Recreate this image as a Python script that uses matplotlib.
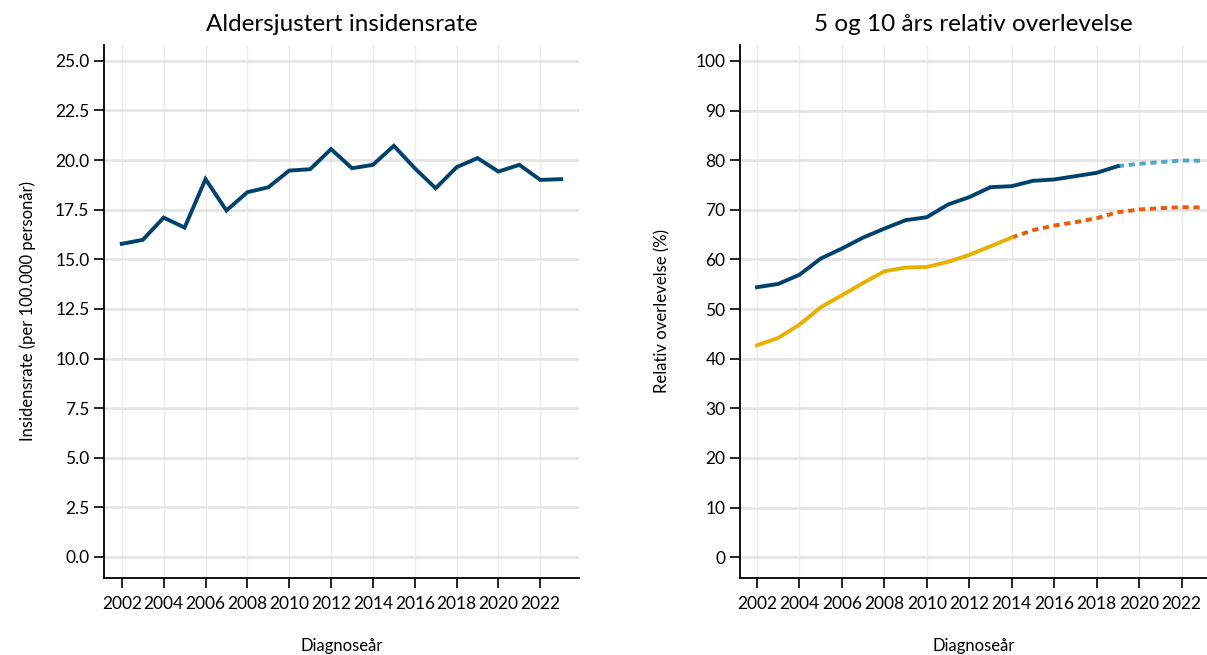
import matplotlib
matplotlib.use("Agg")
import matplotlib.pyplot as plt
import numpy as np

years = list(range(2002, 2024))
incidence = [15.78, 15.98, 17.1, 16.6, 19.04, 17.46, 18.38, 18.63, 19.47, 19.54,
             20.55, 19.59, 19.76, 20.72, 19.59, 18.58, 19.64, 20.1, 19.42, 19.76,
             19.0, 19.04]

surv5_years = list(range(2002, 2020))
surv5 = [54.4, 55.05, 56.9, 60.16, 62.18, 64.4, 66.2, 67.9, 68.5, 71.06,
         72.54, 74.55, 74.75, 75.83, 76.1, 76.77, 77.44, 78.79]
surv5_pred_years = list(range(2019, 2024))
surv5_pred = [78.79, 79.26, 79.6, 79.93, 79.87]

surv10_years = list(range(2002, 2015))
surv10 = [42.7, 44.16, 46.85, 50.34, 52.76, 55.25, 57.6, 58.35, 58.48, 59.5,
          60.9, 62.65, 64.4]
surv10_pred_years = list(range(2014, 2024))
surv10_pred = [64.4, 65.88, 66.82, 67.49, 68.3, 69.5, 70.05, 70.32, 70.52, 70.45]

xticks = list(range(2002, 2024, 2))

plt.rcParams['font.family'] = ['Lato', 'DejaVu Sans']

DARK = '#00426b'
YELLOW = '#e8b000'
LIGHTBLUE = '#4aa8c4'
ORANGE = '#ea5b0c'

fig = plt.figure(figsize=(12.07, 6.55), dpi=100)
ax1 = fig.add_axes([0.0862, 0.1176, 0.3935, 0.8137])
ax2 = fig.add_axes([0.6131, 0.1176, 0.3869, 0.8137])

def style(ax):
    for s in ['top', 'right']:
        ax.spines[s].set_visible(False)
    for s in ['left', 'bottom']:
        ax.spines[s].set_linewidth(1.3)
        ax.spines[s].set_color('black')
    ax.set_xticks(xticks)
    ax.tick_params(axis='both', length=7, width=1.2, labelsize=12.5, colors='black')
    ax.tick_params(axis='x', pad=6)
    ax.grid(axis='y', color='#e3e3e3', linewidth=1.8, zorder=0)
    ax.grid(axis='x', color='#ededed', linewidth=1.0, zorder=0)
    ax.set_axisbelow(True)
    ax.set_xlabel('Diagnoseår', fontsize=12, labelpad=19)

style(ax1)
ax1.plot(years, incidence, color=DARK, linewidth=2.8, solid_joinstyle='miter')
ax1.set_xlim(2001.15, 2023.85)
ax1.set_ylim(-1.06, 25.8)
ax1.set_yticks(np.arange(0, 25.01, 2.5))
ax1.set_yticklabels([f'{v:.1f}' for v in np.arange(0, 25.01, 2.5)])
ax1.set_ylabel('Insidensrate (per 100.000 personår)', fontsize=12, labelpad=14)
ax1.set_title('Aldersjustert insidensrate', fontsize=17.5, pad=10)

style(ax2)
dash = (1.6, 1.2)
ax2.plot(surv5_pred_years, surv5_pred, color=LIGHTBLUE, linewidth=2.8, dashes=dash)
ax2.plot(surv10_pred_years, surv10_pred, color=ORANGE, linewidth=2.8, dashes=dash)
ax2.plot(surv5_years, surv5, color=DARK, linewidth=2.8)
ax2.plot(surv10_years, surv10, color=YELLOW, linewidth=2.8)
ax2.set_xlim(2001.2, 2023.2)
ax2.set_ylim(-4.2, 103.2)
ax2.set_yticks(range(0, 101, 10))
ax2.set_ylabel('Relativ overlevelse (%)', fontsize=12, labelpad=18)
ax2.set_title('5 og 10 års relativ overlevelse', fontsize=17.5, pad=10)

fig.savefig('out.png', dpi=100)
